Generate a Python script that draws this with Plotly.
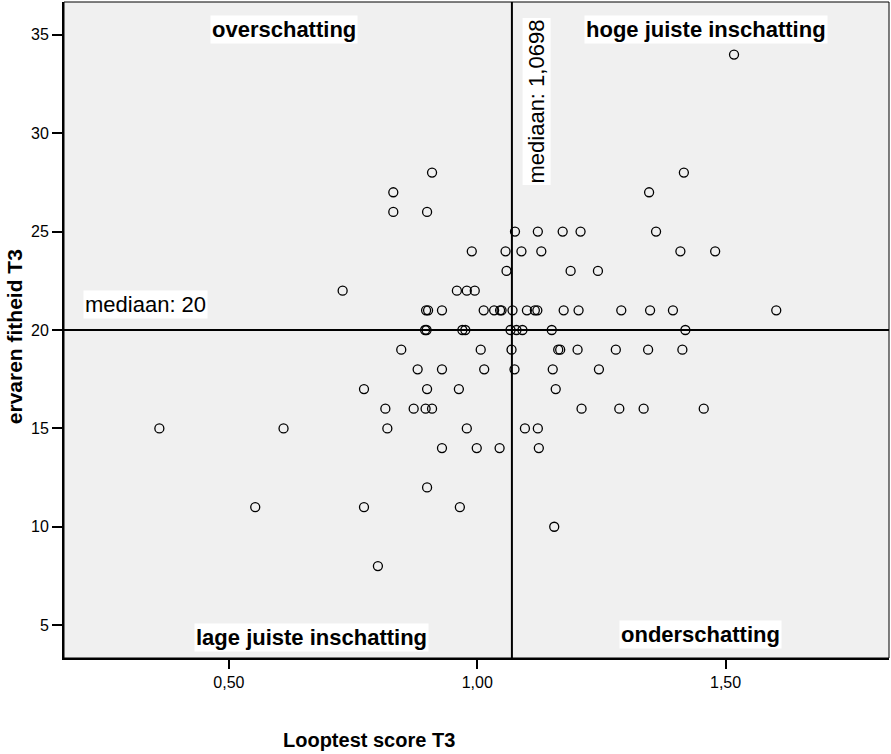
import plotly.graph_objects as go

# Looptest score T3 (x) and ervaren fitheid T3 (y)
looptest = [
    1.517,
    0.909, 1.416,
    0.831, 1.346,
    0.831, 0.899,
    1.076, 1.122, 1.172, 1.208, 1.360,
    0.989, 1.057, 1.089, 1.129, 1.409, 1.479,
    1.059, 1.188, 1.243,
    0.729, 0.959, 0.979, 0.995,
    0.897, 0.901, 0.929, 1.013, 1.034, 1.046, 1.049, 1.071, 1.100, 1.116, 1.121, 1.174, 1.204, 1.290, 1.348, 1.394, 1.602,
    0.895, 0.898, 0.970, 0.976, 1.067, 1.079, 1.091, 1.150, 1.419,
    0.847, 1.007, 1.069, 1.163, 1.167, 1.202, 1.279, 1.344, 1.413,
    0.880, 0.929, 1.014, 1.075, 1.152, 1.245,
    0.772, 0.899, 0.963, 1.158,
    0.815, 0.872, 0.896, 0.909, 1.210, 1.286, 1.335, 1.456,
    0.360, 0.610, 0.819, 0.979, 1.096, 1.122,
    0.929, 0.999, 1.045, 1.124,
    0.899,
    0.553, 0.772, 0.965,
    1.155,
    0.800,
]
fitheid = (
    [34] + [28] * 2 + [27] * 2 + [26] * 2 + [25] * 5 + [24] * 6 + [23] * 3 + [22] * 4
    + [21] * 17 + [20] * 9 + [19] * 9 + [18] * 6 + [17] * 4 + [16] * 8 + [15] * 6
    + [14] * 4 + [12] + [11] * 3 + [10] + [8]
)

median_x = 1.0698
median_y = 20
x_ticks = [0.5, 1.0, 1.5]
x_tick_labels = ["0,50", "1,00", "1,50"]
y_ticks = [5, 10, 15, 20, 25, 30, 35]

FONT = "Arial, Liberation Sans, sans-serif"

fig = go.Figure()
fig.add_trace(go.Scatter(
    x=looptest, y=fitheid, mode="markers",
    marker=dict(symbol="circle-open", size=9, color="black", line=dict(width=1.3, color="black")),
    showlegend=False, hoverinfo="x+y",
))

# median lines
fig.add_shape(type="line", xref="x", yref="paper", x0=median_x, x1=median_x, y0=0, y1=1,
              line=dict(color="black", width=2))
fig.add_shape(type="line", xref="paper", yref="y", x0=0, x1=1, y0=median_y, y1=median_y,
              line=dict(color="black", width=2))
# frame
fig.add_shape(type="rect", xref="paper", yref="paper", x0=0, x1=1, y0=0, y1=1,
              line=dict(color="black", width=1))

def lab(text, x, y, bold=True, angle=0, size=22):
    fig.add_annotation(
        text=f"<b>{text}</b>" if bold else text, xref="paper", yref="paper", x=x, y=y,
        showarrow=False, bgcolor="white", borderpad=1, textangle=angle,
        font=dict(family=FONT, size=size, color="black"), xanchor="center", yanchor="middle",
    )

lab("overschatting", 0.2672, 0.9588)
lab("hoge juiste inschatting", 0.7779, 0.9588)
lab("lage juiste inschatting", 0.3005, 0.032)
lab("onderschatting", 0.7718, 0.0351)
lab("mediaan: 20", 0.0988, 0.5396, bold=False)
lab("mediaan: 1,0698", 0.5731, 0.848, bold=False, angle=-90)

# axis titles
fig.add_annotation(text="<b>Looptest score T3</b>", xref="paper", yref="paper", x=0.3696, y=-0.125,
                   showarrow=False, font=dict(family=FONT, size=20, color="black"),
                   xanchor="center", yanchor="middle")
fig.add_annotation(text="<b>ervaren fitheid T3</b>", xref="paper", yref="paper", x=-0.0606, y=0.489,
                   showarrow=False, textangle=-90, font=dict(family=FONT, size=21, color="black"),
                   xanchor="center", yanchor="middle")

fig.update_layout(
    width=891, height=754,
    margin=dict(l=64, r=2, t=2, b=96),
    paper_bgcolor="white", plot_bgcolor="#F0F0F0",
    font=dict(family=FONT, color="black"),
    xaxis=dict(range=[0.168, 1.829], tickvals=x_ticks, ticktext=x_tick_labels, ticks="outside",
               ticklen=9, tickwidth=1.5, tickcolor="black", showgrid=False, zeroline=False,
               showline=True, linecolor="black", linewidth=2, tickfont=dict(size=16)),
    yaxis=dict(range=[3.33, 36.67], tickvals=y_ticks, ticks="outside", ticklen=10, tickwidth=1.5,
               tickcolor="black", showgrid=False, zeroline=False, showline=True, linecolor="black",
               linewidth=2, tickfont=dict(size=16)),
)

fig.write_html("out.html", config={"displayModeBar": False},
               post_script="document.body.style.margin='0px';")
